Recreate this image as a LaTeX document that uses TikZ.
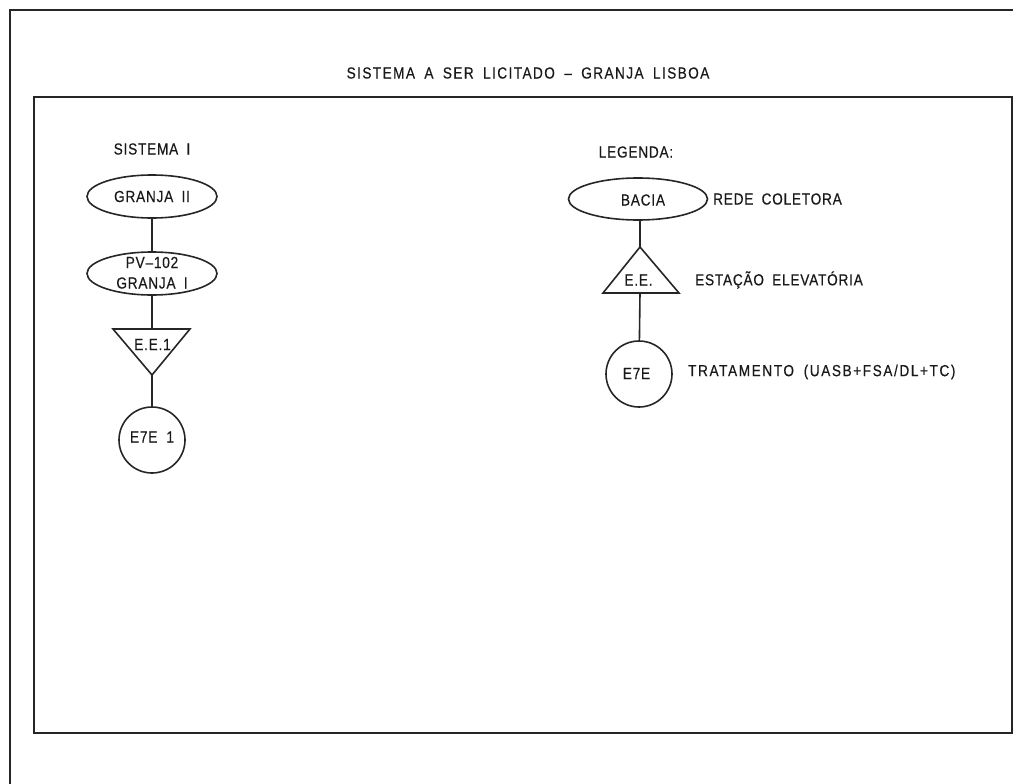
\documentclass[tikz,border=0pt]{standalone}
\usepackage{fontspec}
\setmainfont{Liberation Sans}[FakeStretch=0.85,LetterSpace=5,WordSpace=1.8,FakeBold=0.4]
\usetikzlibrary{shapes.geometric}

\tikzset{
  frame/.style={line width=2pt, draw=black!85},
  shapeline/.style={line width=1.6pt, draw=black!85},
  label/.style={inner sep=0pt, font=\fontsize{16}{18}\selectfont, text=black!90},
  oval/.style={ellipse, shapeline, inner sep=0pt, minimum width=130pt, minimum height=43pt},
  ete/.style={circle, shapeline, inner sep=0pt, minimum size=66pt},
  link/.style={line width=1.6pt, draw=black!85}
}

\begin{document}
\begin{tikzpicture}[x=1pt, y=-1pt]
  \useasboundingbox (0,0) rectangle (1013,784);
  \clip (0,0) rectangle (1013,784);

  % sheet borders
  \draw[frame] (1030,10) -- (10,10) -- (10,800);
  \draw[frame] (33.5,97) rectangle (1011.5,732.5);

  % title
  \node[label] (title) at (528,73) {\addfontfeatures{LetterSpace=9}SISTEMA A SER LICITADO -- GRANJA LISBOA};

  % ---- Sistema I ----
  \node[label] (sis) at (152,149) {SISTEMA I};
  \node[oval] (g2) at (152,196.5) {};
  \node[label] at (g2.center) {GRANJA II};
  \node[oval] (pv) at (152,273.5) {};
  \node[label] (pvt) at (152,262.5) {PV--102};
  \node[label] (g1t) at (152,283) {GRANJA I};

  % pumping station (inverted triangle)
  \coordinate (t1a) at (113,329);
  \coordinate (t1b) at (190,329);
  \coordinate (t1top) at (152,329);
  \coordinate (t1tip) at (152,375);
  \draw[shapeline, line join=miter] (t1a) -- (t1b) -- (t1tip) -- cycle;
  \node[label] (ee1) at (152.5,344.5) {E.E.1};

  \node[ete] (ete1) at (152,440) {};
  \node[label] at (152,437) {E7E\hspace{9pt}1};

  \draw[link] (g2) -- (pv);
  \draw[link] (pv) -- (t1top);
  \draw[link] (t1tip) -- (ete1);

  % ---- Legend ----
  \node[label] (leg) at (636,152) {LEGENDA:};

  \node[oval, minimum width=139pt, minimum height=42pt] (bacia) at (638,199) {};
  \node[label] at (643,200) {BACIA};
  \node[label, anchor=west] (rede) at (713,199) {REDE COLETORA};

  \coordinate (t2tip) at (640,247);
  \coordinate (t2a) at (603,293);
  \coordinate (t2b) at (679,293);
  \coordinate (t2base) at (640,293);
  \draw[shapeline] (t2a) -- (t2tip) -- (t2b) -- cycle;
  \node[label] (ee) at (638.5,280) {E.E.};
  \node[label, anchor=west] (eetxt) at (695,280) {ESTAÇÃO ELEVATÓRIA};

  \node[ete] (ete) at (639,374) {};
  \node[label] at (636.5,373.5) {E7E};
  \node[label, anchor=west] (trat) at (688,372) {\addfontfeatures{LetterSpace=10}TRATAMENTO (UASB+FSA/DL+TC)};

  \draw[link] (bacia.south -| t2tip) -- (t2tip);
  \draw[link] (t2base) -- (ete);
\end{tikzpicture}
\end{document}
